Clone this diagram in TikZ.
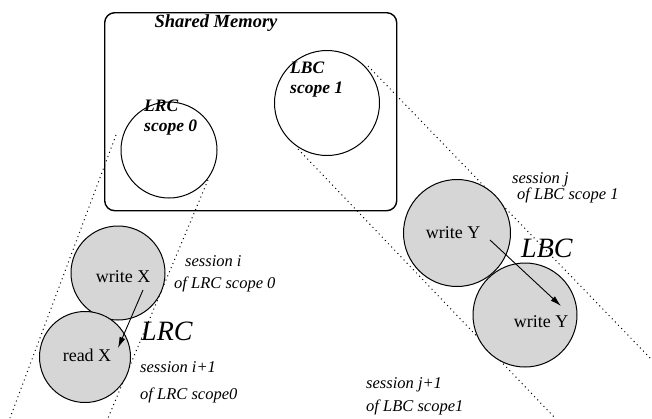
\documentclass[tikz,border=0pt]{standalone}
\usepackage{fontspec}
\setmainfont{Liberation Serif}
\usetikzlibrary{arrows.meta}
\begin{document}
\begin{tikzpicture}[x=1pt,y=-1pt,
  scopecircle/.style={circle,draw,line width=1pt,fill=white,inner sep=0pt},
  sesscircle/.style={circle,draw,line width=1pt,fill=black!16,inner sep=0pt},
  tube/.style={line width=1pt,dash pattern=on 1pt off 3.5pt},
  lbl/.style={font=\fontsize{16.5}{16.5}\selectfont\itshape,anchor=base west,inner sep=0pt},
  big/.style={font=\fontsize{28}{28}\selectfont\itshape,inner sep=0pt},
  optext/.style={font=\fontsize{18}{18}\selectfont,inner sep=0pt},
  bolditext/.style={font=\fontsize{17.5}{20}\selectfont\bfseries\itshape,align=left,inner sep=0pt},
  flow/.style={-{Latex[length=11pt,width=6pt]},line width=0.9pt}]
\useasboundingbox (0,0) rectangle (652,418);
% dotted tubes
\coordinate (lrcA) at (116,135);
\coordinate (lrcB) at (10,418);
\coordinate (lrcC) at (208,180);
\coordinate (lrcD) at (108,418);
\coordinate (lbcA) at (368,66);
\coordinate (lbcB) at (652,360);
\coordinate (lbcC) at (298,149);
\coordinate (lbcD) at (555,418);
\draw[tube] (lrcA) -- (lrcB);
\draw[tube] (lrcC) -- (lrcD);
\draw[tube] (lbcA) -- (lbcB);
\draw[tube] (lbcC) -- (lbcD);
% shared memory
\node[draw,line width=1.4pt,rounded corners=10pt,minimum width=292pt,minimum height=198pt,anchor=north west] (mem) at (104,12) {};
\node[font=\fontsize{18.5}{18.5}\selectfont\bfseries\itshape,anchor=base,inner sep=0pt] (memlbl) at (216,27) {Shared Memory};
% scope circles
\node[scopecircle,minimum size=96pt] (lrc0) at (169,150) {};
\node[bolditext,anchor=base west] (lrc0t) at (144,131) {LRC\\scope 0};
\node[scopecircle,minimum size=105pt] (lbc1) at (327,103) {};
\node[bolditext,anchor=base west] (lbc1t) at (290,93) {LBC\\scope 1};
% session circles
\node[sesscircle,minimum size=94pt] (wx) at (118,273) {};
\node[sesscircle,minimum size=91pt] (rx) at (85,357) {};
\node[sesscircle,minimum size=107pt] (wy1) at (457,233) {};
\node[sesscircle,minimum size=104pt] (wy2) at (525,315) {};
\node[optext,anchor=base] (wxt) at (123,282) {write X};
\node[optext,anchor=base] (rxt) at (87,361) {read X};
\node[optext,anchor=base] (wy1t) at (453,238) {write Y};
\node[optext,anchor=base] (wy2t) at (541,327) {write Y};
% arrows
\coordinate (ax1) at (143,290);
\coordinate (ax2) at (118,348);
\coordinate (ay1) at (490,240);
\coordinate (ay2) at (561,306);
\draw[flow] (ax1) -- (ax2);
\draw[flow] (ay1) -- (ay2);
% labels
\node[big,anchor=base west] (lrcbig) at (141,340) {LRC};
\node[big,anchor=base west] (lbcbig) at (521,257) {LBC};
\node[lbl] (si) at (185,266) {session i};
\node[lbl] (si2) at (174,288) {of LRC scope 0};
\node[lbl] (sii) at (140,372) {session i+1};
\node[lbl] (sii2) at (140,399) {of LRC scope0};
\node[lbl] (sj) at (512,183) {session j};
\node[lbl] (sj2) at (517,199) {of LBC scope 1};
\node[lbl] (sjj) at (366,388) {session j+1};
\node[lbl] (sjj2) at (366,411) {of LBC scope1};
\end{tikzpicture}
\end{document}
